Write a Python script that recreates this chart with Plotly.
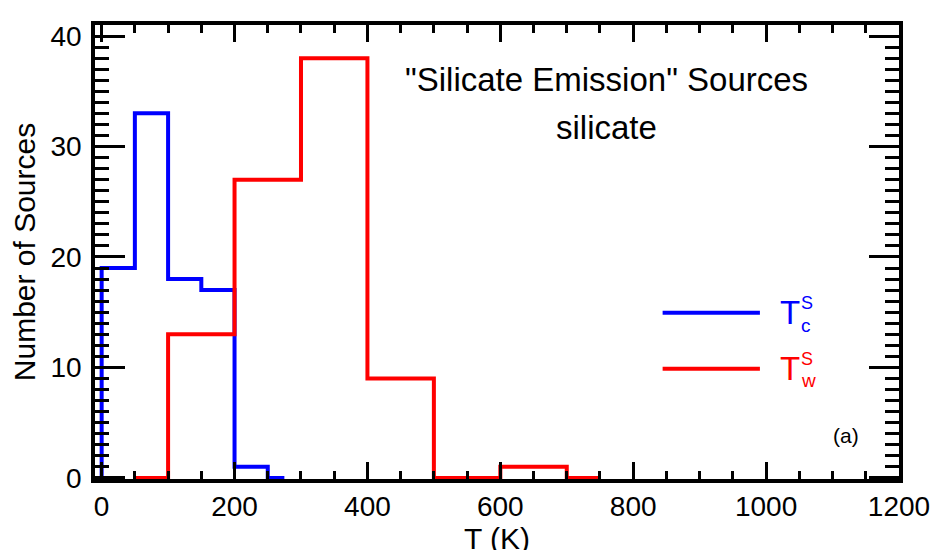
import plotly.graph_objects as go

# histogram bin centres (K) and counts, drawn IDL psym=10 style
tc_x = [-25, 25, 75, 125, 175, 225, 275]
tc_n = [0, 19, 33, 18, 17, 1, 0]

tw_x = [50, 150, 250, 350, 450, 550, 650, 750]
tw_n = [0, 13, 27, 38, 9, 0, 1, 0]

x_ticks = [0, 200, 400, 600, 800, 1000, 1200]
y_ticks = [0, 10, 20, 30, 40]

FONT = "Liberation Sans, Arial, Helvetica, sans-serif"
BLUE = "#0000ff"
RED = "#ff0000"
X_RANGE = [-10, 1200]
Y_RANGE = [-0.1, 41]

# every unit on the y axis gets a (minor) tick, labels only on the majors
y_minor = list(range(0, 42))
y_text = [str(v) if v in y_ticks else "" for v in y_minor]

fig = go.Figure()

fig.add_trace(go.Scatter(x=tc_x, y=tc_n, mode="lines", line=dict(color=BLUE, width=4, shape="hvh"),
                         name="Tc", showlegend=False))
fig.add_trace(go.Scatter(x=tw_x, y=tw_n, mode="lines", line=dict(color=RED, width=4, shape="hvh"),
                         name="Tw", showlegend=False))
# empty trace so the overlay tick axes get drawn
fig.add_trace(go.Scatter(x=[], y=[], xaxis="x2", yaxis="y2", showlegend=False, hoverinfo="skip"))

axis_common = dict(showline=True, linecolor="black", linewidth=3.5, mirror="allticks",
                   ticks="inside", tickcolor="black", tickwidth=3,
                   showgrid=False, zeroline=False, automargin=False,
                   tickfont=dict(family=FONT, size=28, color="black"))

fig.update_layout(
    xaxis=dict(range=X_RANGE, tickmode="linear", tick0=0, dtick=x_ticks[1] - x_ticks[0], ticklen=17,
               title=dict(text="T (K)", font=dict(family=FONT, size=30, color="black"), standoff=0),
               ticklabelstandoff=0, **axis_common),
    yaxis=dict(range=Y_RANGE, tickmode="array", tickvals=y_minor, ticktext=y_text, ticklen=14,
               title=dict(text="Number of Sources", font=dict(family=FONT, size=30, color="black"), standoff=18),
               ticklabelstandoff=4, **axis_common),
    # x minor ticks
    xaxis2=dict(range=X_RANGE, overlaying="x", anchor="y2", side="bottom", tickmode="linear", tick0=0, dtick=50,
                ticks="inside", ticklen=8, tickwidth=3, tickcolor="black", mirror="allticks",
                showline=False, showgrid=False, zeroline=False, showticklabels=False, automargin=False),
    # y major (long) ticks
    yaxis2=dict(range=Y_RANGE, overlaying="y", anchor="x2", side="left", tickmode="array", tickvals=y_ticks,
                ticks="inside", ticklen=30, tickwidth=3, tickcolor="black", mirror="allticks",
                showline=False, showgrid=False, zeroline=False, showticklabels=False, automargin=False),
)

def note(text, x, y, size, color="black", xanchor="center"):
    fig.add_annotation(text=text, x=x, y=y, xref="paper", yref="paper", xanchor=xanchor, yanchor="middle",
                       showarrow=False, font=dict(family=FONT, size=size, color=color))

# title text inside the plot
note('"Silicate Emission" Sources', 0.636, 0.879, 33)
note("silicate", 0.636, 0.775, 33)

# legend drawn by hand
legend_items = [("c", BLUE, 0.366), ("w", RED, 0.243)]
for sub, col, yy in legend_items:
    fig.add_shape(type="line", xref="paper", yref="paper", x0=0.706, x1=0.827, y0=yy, y1=yy,
                  line=dict(color=col, width=4))
    note("T", 0.849, yy, 33, col, "left")
    note("S", 0.875, yy + 0.022, 18, col, "left")
    note(sub, 0.875, yy - 0.027, 19, col, "left")

note("(a)", 0.934, 0.095, 21)

# page body has an 8px margin, so the margins are shifted to compensate
fig.update_layout(template="none", width=945, height=550, plot_bgcolor="white", paper_bgcolor="white",
                  margin=dict(l=87, r=54, t=17, b=79), showlegend=False)

fig.write_html("out.html")
